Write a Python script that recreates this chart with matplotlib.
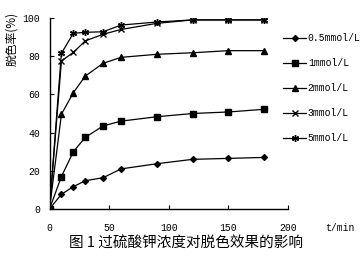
import matplotlib
matplotlib.use("Agg")
import matplotlib.pyplot as plt

plt.rcParams['font.family'] = ['Noto Sans CJK SC', 'DejaVu Sans']

t = [0, 10, 20, 30, 45, 60, 90, 120, 150, 180]
s05 = [0, 7.7, 11.7, 14.8, 16.4, 21, 23.7, 26, 26.5, 27]
s1 = [0, 17, 30, 37.5, 43.5, 46, 48.3, 50, 50.8, 52.2]
s2 = [0, 49.6, 60.9, 69.6, 76.3, 79.4, 81, 81.8, 82.9, 82.9]
s3 = [0, 77.5, 82, 88, 91.5, 94, 97.2, 99, 99, 99]
s5 = [0, 81.5, 92, 92.5, 92.8, 96.3, 97.9, 99, 99, 99]
labels = ['0.5mmol/L', '1mmol/L', '2mmol/L', '3mmol/L', '5mmol/L']
xticks = [0, 50, 100, 150, 200]
yticks = [0, 20, 40, 60, 80, 100]

mono = 'Liberation Mono'

fig = plt.figure(figsize=(3.6, 2.57), dpi=100)
ax = fig.add_axes([49.5/360, 1-209/257, (288-49.5)/360, (209-18)/257])

series = [s05, s1, s2, s3, s5]
markers = ['D', 's', '^', 'x', (6, 2, 0)]
sizes = [3, 4, 4.5, 5, 5]
for s, m, ms, lab in zip(series, markers, sizes, labels):
    ax.plot(t, s, color='black', lw=0.9, marker=m, ms=ms, mew=1.0,
            mfc='black', mec='black', label=lab)

ax.set_xlim(0, 200)
ax.set_ylim(0, 100)
ax.set_xticks(xticks)
ax.set_yticks(yticks)
ax.tick_params(direction='in', length=3, width=0.8, colors='black')
ax.tick_params(axis='x', pad=10)
ax.tick_params(axis='y', pad=7)
for lab in ax.get_xticklabels() + ax.get_yticklabels():
    lab.set_fontfamily(mono)
    lab.set_fontsize(7)
for sp in ['top', 'right']:
    ax.spines[sp].set_visible(False)
for sp in ['left', 'bottom']:
    ax.spines[sp].set_linewidth(1.0)

fig.text(12/360, 1-12/257, '脱色率(%)', rotation=90, fontsize=8.5, ha='center', va='top',
         family=['Noto Sans CJK SC', 'DejaVu Sans'])
fig.text(340/360, 1-228/257, 't/min', fontsize=7, ha='center', va='center', family=mono)
fig.text(186/360, 1-244/257, '图 1 过硫酸钾浓度对脱色效果的影响', fontsize=10.5, ha='center', va='center')

leg = ax.legend(loc='upper left', bbox_to_anchor=(283/360, 1-33/257),
                bbox_transform=fig.transFigure, frameon=False,
                prop={'family': mono, 'size': 7},
                handlelength=2.4, handletextpad=0.15, labelspacing=1.55,
                borderpad=0, borderaxespad=0)

fig.savefig('out.png', dpi=100)
